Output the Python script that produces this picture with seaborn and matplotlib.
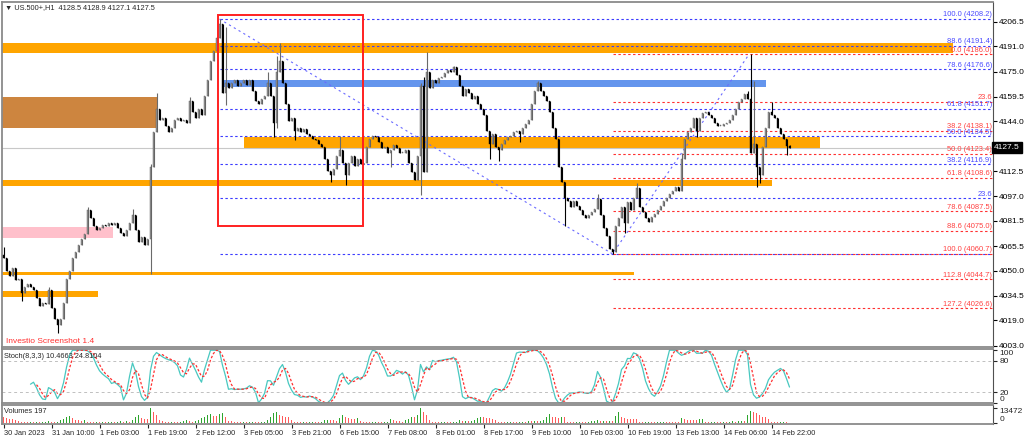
import numpy as np
import pandas as pd
import matplotlib
matplotlib.use("Agg")
import matplotlib.pyplot as plt
from matplotlib.patches import Rectangle
import seaborn as sns

# US.500+ H1 closes (bar 0 = first visible hour)
first_open = 4060
closes = [
    4058, 4050, 4047, 4052, 4044, 4045, 4036, 4040, 4042, 4040,
    4038, 4033, 4028, 4030, 4029, 4038, 4027, 4020, 4016, 4020,
    4030, 4045, 4050, 4058, 4062, 4066, 4070, 4073, 4088, 4083,
    4078, 4076, 4077, 4079, 4078, 4080, 4079, 4080, 4077, 4074,
    4072, 4076, 4080, 4085, 4076, 4068, 4071, 4066, 4070, 4115,
    4137, 4152, 4145, 4146, 4141, 4137, 4140, 4145, 4146, 4144,
    4145, 4143, 4157, 4150, 4146, 4152, 4148, 4160, 4170, 4182,
    4188, 4196, 4205, 4162, 4168, 4165, 4168, 4170, 4166, 4168,
    4170, 4167, 4170, 4163, 4157, 4155, 4158, 4160, 4168, 4160,
    4143, 4175, 4182, 4168, 4155, 4144, 4146, 4138, 4140, 4137,
    4139, 4136, 4135, 4133, 4132, 4130, 4128, 4120, 4113, 4110,
    4114, 4122, 4126, 4118, 4110, 4118, 4122, 4116, 4120, 4117,
    4118, 4128, 4133, 4135, 4134, 4131, 4127, 4128, 4124, 4126,
    4129, 4127, 4124, 4124, 4126, 4118, 4112, 4107, 4122, 4166,
    4112, 4175, 4165, 4170, 4168, 4171, 4172, 4174, 4176, 4175,
    4178, 4173, 4166, 4160, 4164, 4162, 4158, 4160, 4155, 4152,
    4148, 4138, 4130, 4136, 4128, 4126, 4130, 4132, 4134, 4135,
    4137, 4138, 4136, 4140, 4142, 4145, 4155, 4163, 4168, 4163,
    4160, 4157, 4150, 4140, 4133, 4115, 4106, 4096, 4094, 4090,
    4094, 4091, 4088, 4085, 4083, 4085, 4087, 4089, 4095, 4085,
    4077, 4072, 4064, 4062, 4078, 4083, 4090, 4080, 4093, 4088,
    4096, 4102, 4090, 4087, 4083, 4081, 4084, 4086, 4088, 4091,
    4094, 4096, 4098, 4100, 4103, 4100, 4120, 4133, 4137, 4140,
    4146, 4138, 4146, 4149, 4150, 4148, 4146, 4143, 4141, 4141,
    4142, 4143, 4145, 4148, 4152, 4156, 4158, 4161, 4158, 4124,
    4130, 4115, 4110, 4128, 4140, 4150, 4148, 4146, 4140, 4136,
    4133, 4128.5, 4127.5,
]
# wick ends that stick out of the bodies
wick_hi = {0: 4065, 15: 4040, 28: 4090, 43: 4089, 49: 4117, 51: 4162, 62: 4159,
           72: 4208.2, 74: 4203, 88: 4175, 91: 4185, 92: 4193, 112: 4135,
           139: 4168, 140: 4172, 141: 4187.5, 150: 4179, 178: 4169, 198: 4098,
           211: 4105, 226: 4124, 248: 4163, 249: 4186, 250: 4169, 256: 4156,
           262: 4128.9}
wick_lo = {6: 4031, 18: 4011, 49: 4048, 74: 4154, 90: 4134, 91: 4140, 97: 4132,
           109: 4106, 114: 4104, 129: 4115, 139: 4097.5, 141: 4140, 162: 4120,
           165: 4119, 172: 4131, 187: 4078, 203: 4060.7, 207: 4073.6, 231: 4134,
           251: 4103, 252: 4105, 261: 4122.6, 262: 4127.1}

volumes = [
    4900, 4500, 3700, 3400, 2900, 2000, 900, 800, 700, 800,
    700, 900, 800, 900, 1000, 1400, 900, 900, 1100, 2300,
    3700, 5200, 6300, 4000, 2900, 2300, 1700, 2300, 1100, 800,
    700, 800, 700, 800, 700, 800, 900, 800, 1200, 1400,
    1100, 1400, 1200, 2900, 5700, 7200, 4000, 3700, 3400, 13472,
    10000, 7200, 2900, 1400, 900, 800, 900, 800, 700, 800,
    1400, 2300, 1700, 1100, 1400, 2900, 4300, 5700, 7200, 8000,
    6500, 5800, 7500, 8600, 5700, 2000, 1700, 900, 800, 700,
    800, 700, 800, 900, 800, 700, 800, 900, 2900, 5700,
    8600, 10000, 7200, 6300, 5700, 5200, 2900, 900, 800, 700,
    800, 700, 800, 900, 800, 700, 800, 2300, 2900, 2600,
    2300, 1700, 4300, 7200, 4900, 4300, 3700, 3400, 4300, 2000,
    900, 800, 700, 800, 900, 800, 700, 800, 900, 3400,
    2300, 1700, 1700, 1100, 2900, 3700, 5200, 5200, 7200, 13400,
    10000, 7200, 2300, 900, 800, 700, 800, 900, 800, 700,
    800, 900, 2300, 1400, 1700, 1400, 1700, 2900, 4300, 5700,
    4900, 4300, 4000, 3700, 2900, 900, 800, 700, 800, 900,
    800, 700, 800, 900, 800, 1400, 1400, 1700, 1400, 1700,
    2900, 5700, 7800, 5700, 4900, 4600, 4900, 4900, 1100, 800,
    700, 800, 900, 800, 700, 800, 1400, 2000, 2300, 1700,
    2000, 1700, 2000, 1700, 6300, 9500, 5700, 4300, 3700, 3700,
    3500, 3400, 800, 700, 800, 900, 800, 700, 800, 900,
    1100, 1100, 1100, 1100, 1100, 1100, 4300, 3400, 2900, 2900,
    2900, 2900, 3100, 3400, 800, 700, 800, 900, 800, 700,
    800, 700, 1100, 1400, 1100, 1400, 1700, 1400, 7200, 10900,
    10000, 8600, 7200, 5700, 4900, 3400, 900, 800, 700, 800,
    900, 800, 197,
]

date_labels = ["30 Jan 2023", "31 Jan 10:00", "1 Feb 03:00", "1 Feb 19:00",
               "2 Feb 12:00", "3 Feb 05:00", "3 Feb 21:00", "6 Feb 15:00",
               "7 Feb 08:00", "8 Feb 01:00", "8 Feb 17:00", "9 Feb 10:00",
               "10 Feb 03:00", "10 Feb 19:00", "13 Feb 13:00", "14 Feb 06:00",
               "14 Feb 22:00"]
price_ticks = [4206.5, 4191.0, 4175.0, 4159.5, 4144.0, 4112.5, 4097.0,
               4081.5, 4065.5, 4050.0, 4034.5, 4019.0, 4003.0]
last_price = 4127.5

# fibonacci retracements: down leg (blue) and up leg (red)
blue_start = 72
blue_levels = [4208.2, 4191.4, 4176.6, 4151.7, 4134.5, 4116.9, 4095.5, 4060.7]
blue_names = ["100.0 (4208.2)", "88.6 (4191.4)", "78.6 (4176.6)", "61.8 (4151.7)",
              "50.0 (4134.5)", "38.2 (4116.9)", "23.6", ""]
red_start = 203
red_levels = [4186.0, 4156.4, 4138.1, 4123.4, 4108.6, 4087.5, 4075.0, 4060.7,
              4044.7, 4026.6]
red_names = ["0.0 (4186.0)", "23.6", "38.2 (4138.1)", "50.0 (4123.4)",
             "61.8 (4108.6)", "78.6 (4087.5)", "88.6 (4075.0)", "100.0 (4060.7)",
             "112.8 (4044.7)", "127.2 (4026.6)"]
trend_bars = [72, 203, 248.5]
trend_prices = [4208.2, 4060.7, 4186.0]

# supply / demand zones: bar from, bar to, price low, price high
zone_from = [-0.5, -0.5, 73, 80, -0.5, -0.5, -0.5, -0.5]
zone_to = [316.5, 51.5, 254, 272, 256, 36.5, 210, 31.5]
zone_lo = [4186.8, 4139.6, 4165.3, 4127.0, 4103.6, 4070.7, 4047.4, 4033.3]
zone_hi = [4193.1, 4159.1, 4169.8, 4134.0, 4107.0, 4077.6, 4049.3, 4037.3]
zone_col = ["#FFA500", "#CD853F", "#6495ED", "#FFA500", "#FFA500", "#FFC0CB",
            "#FFA500", "#FFA500"]
box_bars = [71.5, 119.8]
box_prices = [4077.9, 4210.7]

sns.set_style("white")
plt.rcParams["font.family"] = ["Liberation Sans", "DejaVu Sans"]

n = len(closes)
x = np.arange(n)
c = np.array(closes, dtype=float)
o = np.concatenate([[first_open], c[:-1]])
hi = np.array([max(o[i], c[i], wick_hi.get(i, -1)) for i in range(n)])
lo = np.array([min(o[i], c[i], wick_lo.get(i, 1e9)) for i in range(n)])

# Stoch(8,3,3) from the candles
df = pd.DataFrame({"h": hi, "l": lo, "c": c})
hh = df.h.rolling(8).max()
ll = df.l.rolling(8).min()
main = 100 * (df.c - ll).rolling(3).sum() / (hh - ll).rolling(3).sum()
signal = main.rolling(3).mean()
df["bar"] = x
df["main"] = main
df["signal"] = signal

fig = plt.figure(figsize=(10.24, 4.4), dpi=100)
W, H = 1024, 440
L, R = 2, 993
ax = fig.add_axes([L / W, 1 - 347 / H, (R - L) / W, 345 / H])
ax_s = fig.add_axes([L / W, 1 - 403 / H, (R - L) / W, 54 / H], sharex=ax)
ax_v = fig.add_axes([L / W, 1 - 424 / H, (R - L) / W, 19 / H], sharex=ax)

xmax = -0.5 + (R - L) / 3
ax.set_xlim(-0.5, xmax)
ax.set_ylim(4002.2, 4218.9)

# zones
for f, t, zl, zh, col in zip(zone_from, zone_to, zone_lo, zone_hi, zone_col):
    ax.add_patch(Rectangle((f, zl), t - f, zh - zl, facecolor=col, edgecolor="none", zorder=1))
ax.add_patch(Rectangle((box_bars[0], box_prices[0]), box_bars[1] - box_bars[0],
                       box_prices[1] - box_prices[0], facecolor="none",
                       edgecolor="#ff2020", lw=1.4, zorder=5))
ax.axhline(last_price, color="#c8c8c8", lw=0.8, zorder=1.5)

# fibonacci lines and labels
dots = (0, (2.2, 2.2))
for lvl, name in zip(blue_levels, blue_names):
    ax.plot([blue_start, xmax], [lvl, lvl], color="#3c3cff", lw=0.8, ls=dots, zorder=2)
    if name:
        ax.text(xmax - 0.3, lvl + 0.4, name, color="#4a4aff", fontsize=5.4,
                ha="right", va="bottom", zorder=6)
for lvl, name in zip(red_levels, red_names):
    ax.plot([red_start, xmax], [lvl, lvl], color="#ff3030", lw=0.8, ls=dots, zorder=2)
    ax.text(xmax - 0.3, lvl + 0.4, name, color="#ff4040", fontsize=5.4,
            ha="right", va="bottom", zorder=6)
ax.plot(trend_bars, trend_prices, color="#6a6aff", lw=0.8, ls=(0, (2, 3)), zorder=2)

# candles
up = c >= o
body_lo = np.minimum(o, c)
body_h = np.maximum(np.abs(c - o), 0.4)
ax.vlines(x[up], lo[up], hi[up], color="#6a6a6a", lw=0.8, zorder=3)
ax.vlines(x[~up], lo[~up], hi[~up], color="black", lw=0.8, zorder=3)
ax.bar(x[up], body_h[up], bottom=body_lo[up], width=0.62, color="#a8a8a8",
       edgecolor="#555555", lw=0.3, zorder=4)
ax.bar(x[~up], body_h[~up], bottom=body_lo[~up], width=0.62, color="black",
       edgecolor="black", lw=0.3, zorder=4)

ax.yaxis.tick_right()
ax.set_yticks(price_ticks)
ax.set_yticklabels([f"{p:.1f}" for p in price_ticks])
ax.tick_params(axis="y", labelsize=6, length=3, pad=1.5, right=True, colors="black")
ax.tick_params(axis="x", bottom=False, labelbottom=False)
ax.text(1.001, last_price, f"{last_price:.1f}", transform=ax.get_yaxis_transform(),
        color="white", fontsize=6, ha="left", va="center",
        bbox=dict(boxstyle="square,pad=0.25", facecolor="black", edgecolor="black"))
ax.text(0.003, 0.983, "\u25bc US.500+,H1  4128.5 4128.9 4127.1 4127.5",
        transform=ax.transAxes, fontsize=5.3, ha="left", va="center")
ax.text(0.004, 0.017, "Investio Screenshot 1.4", transform=ax.transAxes,
        fontsize=6, color="#ff3030", ha="left", va="center")

# stochastic panel
sns.lineplot(data=df, x="bar", y="main", ax=ax_s, color="#48c8c0", lw=0.9)
sns.lineplot(data=df, x="bar", y="signal", ax=ax_s, color="#ff3030", lw=0.9,
             linestyle=(0, (2, 1.5)))
for lvl in (20, 80):
    ax_s.axhline(lvl, color="#c0c0c0", lw=0.7, ls=(0, (3, 3)))
ax_s.set_ylim(-0.4, 102.3)
ax_s.yaxis.tick_right()
ax_s.set_yticks([0, 20, 80, 100])
ax_s.set_yticklabels(["0", "20", "80", "100"])
ax_s.tick_params(axis="y", labelsize=6, length=3, pad=1.5, right=True)
ax_s.tick_params(axis="x", bottom=False, labelbottom=False)
yl = ax_s.get_yticklabels()
yl[0].set_va("bottom")
yl[3].set_va("top")
ax_s.text(0.002, 0.87, "Stoch(8,3,3) 10.4663 24.8104", transform=ax_s.transAxes,
          fontsize=5.3, ha="left", va="center")

# volume panel
v = np.array(volumes, dtype=float)
rising = np.concatenate([[False], v[1:] > v[:-1]])
vcol = np.where(rising, "#2ea52e", "#ff5a5a")
ax_v.bar(x, v, width=0.6, color=vcol, lw=0)
ax_v.set_ylim(-880, 15850)
ax_v.yaxis.tick_right()
ax_v.set_yticks([0, 13472])
ax_v.set_yticklabels(["0", "13472"])
ax_v.tick_params(axis="y", labelsize=6, length=3, pad=1.5, right=True)
vl = ax_v.get_yticklabels()
vl[0].set_va("bottom")
vl[1].set_va("top")
ax_v.text(0.002, 0.68, "Volumes 197", transform=ax_v.transAxes, fontsize=5.3,
          ha="left", va="center")
ax_v.set_xticks(np.arange(len(date_labels)) * 16)
ax_v.set_xticklabels(date_labels)
ax_v.tick_params(axis="x", labelsize=5.3, length=3, pad=1, bottom=True)
for t in ax_v.get_xticklabels():
    t.set_ha("left")

for a in (ax, ax_s, ax_v):
    a.set_facecolor("white")
    for side in ("left", "top", "bottom"):
        a.spines[side].set_color("#8a8a8a")
        a.spines[side].set_linewidth(1.3)
    a.spines["right"].set_color("#505050")
    a.spines["right"].set_linewidth(0.8)
    a.set_xlabel("")
    a.set_ylabel("")

fig.savefig("out.png", dpi=100, facecolor="white")
